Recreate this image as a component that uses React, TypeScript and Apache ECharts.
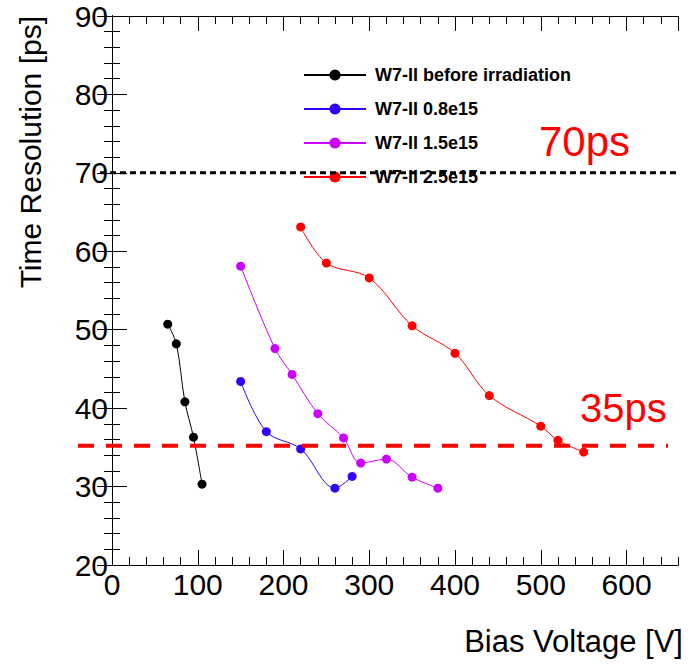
import React, { useEffect, useRef } from "react";
import * as echarts from "echarts";

const blackV = [65, 75, 85, 95, 105];
const blackR = [50.7, 48.2, 40.8, 36.3, 30.3];
const blueV = [150, 180, 220, 260, 280];
const blueR = [43.4, 37.0, 34.8, 29.8, 31.3];
const magentaV = [150, 190, 210, 240, 270, 290, 320, 350, 380];
const magentaR = [58.1, 47.6, 44.3, 39.3, 36.2, 33.0, 33.5, 31.2, 29.8];
const redV = [220, 250, 300, 350, 400, 440, 500, 520, 550];
const redR = [63.1, 58.5, 56.6, 50.5, 47.0, 41.6, 37.7, 35.9, 34.4];

const seriesNames = [
  "W7-II before irradiation",
  "W7-II 0.8e15",
  "W7-II 1.5e15",
  "W7-II 2.5e15",
];
const seriesColors = ["#000000", "#3300ff", "#cc00ff", "#ff0000"];
const limit70 = 70;
const limit35 = 35.2;
const xMin = 0;
const xMax = 660;
const yMin = 20;
const yMax = 90;

const FONT = "Liberation Sans, Arial, Helvetica, sans-serif";

function pairs(xs: number[], ys: number[]) {
  return xs.map((x, i) => [x, ys[i]]);
}

export default function App() {
  const ref = useRef<HTMLDivElement>(null);
  useEffect(() => {
    if (!ref.current) return;
    const chart = echarts.init(ref.current, undefined, { renderer: "svg" });
    const axisLine = { show: true, lineStyle: { color: "#000", width: 1 } };
    const mkX = (pos: "bottom" | "top", major: boolean, labels: boolean) => ({
      type: "value",
      position: pos,
      min: xMin,
      max: xMax,
      interval: major ? 100 : 20,
      axisLine,
      splitLine: { show: false },
      axisTick: {
        show: true,
        inside: true,
        length: major ? 15 : 8,
        lineStyle: { color: "#000", width: 1 },
      },
      axisLabel: labels
        ? {
            show: true,
            fontSize: 30,
            color: "#000",
            fontFamily: FONT,
            margin: 4,
            showMaxLabel: false,
          }
        : { show: false },
    });
    const mkY = (pos: "left" | "right", major: boolean, labels: boolean) => ({
      type: "value",
      position: pos,
      min: yMin,
      max: yMax,
      interval: major ? 10 : 2,
      axisLine,
      splitLine: { show: false },
      axisTick: {
        show: true,
        inside: true,
        length: major ? 15 : 8,
        lineStyle: { color: "#000", width: 1 },
      },
      axisLabel: labels
        ? { show: true, fontSize: 30, color: "#000", fontFamily: FONT, margin: 4 }
        : { show: false },
    });
    const allV = [blackV, blueV, magentaV, redV];
    const allR = [blackR, blueR, magentaR, redR];
    const option: any = {
      animation: false,
      backgroundColor: "#fff",
      grid: { left: 112, top: 16, right: 14, bottom: 99, containLabel: false },
      xAxis: [
        mkX("bottom", true, true),
        mkX("bottom", false, false),
        mkX("top", true, false),
        mkX("top", false, false),
      ],
      yAxis: [
        mkY("left", true, true),
        mkY("left", false, false),
        mkY("right", true, false),
        mkY("right", false, false),
      ],
      legend: {
        orient: "vertical",
        left: 298,
        top: 60,
        itemWidth: 62,
        itemHeight: 14,
        itemGap: 14,
        data: seriesNames,
        textStyle: {
          fontSize: 18,
          fontWeight: "bold",
          fontFamily: FONT,
          color: "#000",
          lineHeight: 20,
          padding: [0, 0, 0, 4],
        },
      },
      series: seriesNames.map((name, i) => ({
        name,
        type: "line",
        xAxisIndex: 0,
        yAxisIndex: 0,
        data: pairs(allV[i], allR[i]),
        smooth: 0.35,
        symbol: "circle",
        symbolSize: 9,
        showSymbol: true,
        lineStyle: { color: seriesColors[i], width: 1 },
        itemStyle: { color: seriesColors[i] },
        z: 3,
      })),
    };
    chart.setOption(option);
    const y70 = chart.convertToPixel({ yAxisIndex: 0 }, limit70) as number;
    const y35 = chart.convertToPixel({ yAxisIndex: 0 }, limit35) as number;
    const xRight = chart.convertToPixel({ xAxisIndex: 0 }, xMax) as number;
    chart.setOption({
      graphic: [
        {
          type: "line",
          z: 100,
          shape: { x1: 100, y1: y70, x2: xRight, y2: y70 },
          style: { stroke: "#000", lineWidth: 3, lineDash: [6, 4] },
        },
        {
          type: "line",
          z: 100,
          shape: { x1: 78, y1: y35, x2: 668, y2: y35 },
          style: { stroke: "#ff0000", lineWidth: 4, lineDash: [16, 12] },
        },
        {
          type: "text",
          z: 100,
          x: 539,
          y: 162,
          style: {
            text: "70ps",
            fill: "#ff0000",
            fontSize: 42,
            fontFamily: FONT,
            verticalAlign: "bottom",
          },
        },
        {
          type: "text",
          z: 100,
          x: 580,
          y: 428,
          style: {
            text: "35ps",
            fill: "#ff0000",
            fontSize: 40,
            fontFamily: FONT,
            verticalAlign: "bottom",
          },
        },
        {
          type: "text",
          z: 100,
          x: 683,
          y: 657,
          style: {
            text: "Bias Voltage [V]",
            fill: "#000",
            fontSize: 31,
            fontFamily: FONT,
            align: "right",
            verticalAlign: "bottom",
          },
        },
        {
          type: "text",
          z: 100,
          x: 15,
          y: 16,
          rotation: Math.PI / 2,
          style: {
            text: "Time Resolution [ps]",
            fill: "#000",
            fontSize: 30,
            fontFamily: FONT,
            align: "right",
            verticalAlign: "top",
          },
        },
      ],
    });
    return () => chart.dispose();
  }, []);
  return (
    <div
      ref={ref}
      style={{ position: "fixed", left: 0, top: 0, width: 692, height: 664 }}
    />
  );
}
